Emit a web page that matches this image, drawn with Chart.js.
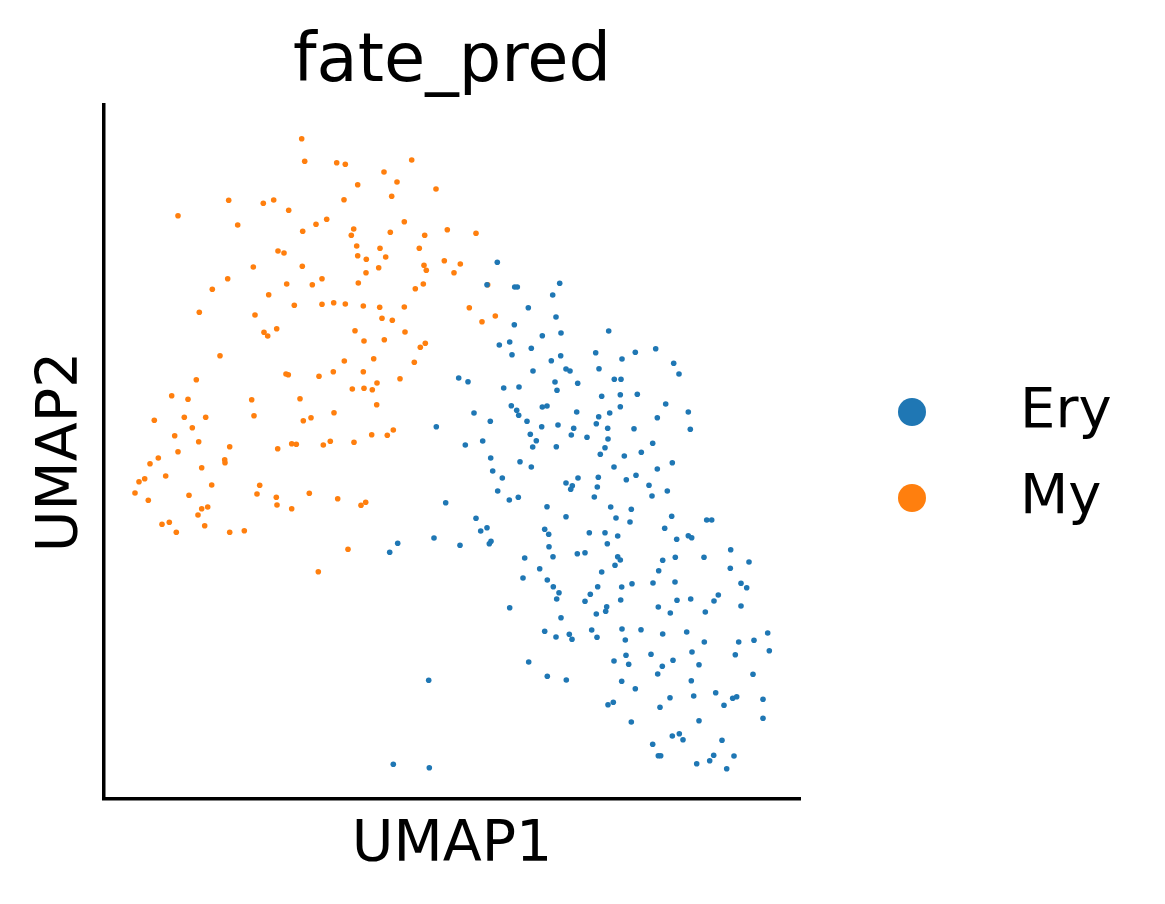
<!DOCTYPE html>
<html>
<head>
<meta charset="utf-8">
<script src="https://cdn.jsdelivr.net/npm/chart.js@4.4.1/dist/chart.umd.min.js"></script>
<style>
  html, body { margin: 0; padding: 0; background: #fff; }
  #wrap { width: 1165px; height: 904px; }
</style>
</head>
<body>
<div id="wrap"><canvas id="c" width="1165" height="904"></canvas></div>
<script>
// Categories
const categories = ["Ery", "My"];
const colors = ["#1f77b4", "#ff7f0e"];

// Values (UMAP1, UMAP2 in picture units; UMAP2 grows downward)
const eryX = [487,497.3,514.7,517.3,559.7,552.7,528.3,556,514.3,542.3,561,499.3,509.7,531.3,
512,560.7,551.3,533,566,570,458.7,468,555,577.7,503.7,519,557,511.3,516.7,518.7,542.3,547,576.7,474,490.3,527,541.7,558,573.7,571.3,436.3,530.3,536.3,532.7,556.3,482.7,465.3,490.7,520,531.3,492.7,502.3,578,566,572.3,570.7,497.7,509.3,518.3,547,445.7,566,476,487,480.7,544.7,548.7,491,489.3,397.7,389.7,434,460,549,553,577.3,524.7,539.7,523,547.3,
553.3,559,556.7,509.7,561,544.7,556,569.3,572,528.7,547.3,566.3,428.7,393.3,429.3,
608.7,595.7,635.3,655.7,622,599,673.7,679,614.3,621,601.7,620.3,637.3,620.3,665.7,688.3,609.7,598.7,596.3,657.3,607.7,634,690.3,587,608,605,652.7,600.3,624.3,641.3,614,672.3,657.3,598.3,626.3,636,597.3,649,594.3,652,667.3,610.7,631.3,616,630,671.7,706.7,711.7,589.3,605,617.7,664.7,676.7,688.3,691.7,
585,607.3,617.7,620.3,615,662.7,675.3,704,730.7,749,730.3,601.7,658.7,597.7,621.7,632,653,675,741,746.7,590.3,585,620.7,677,690.7,714,718.3,596.3,606.7,605.7,658.3,670.3,705.3,741,591.7,597,622,641,625.3,662.7,686.7,704.3,738.7,754,767.7,769.3,735.3,626,628.7,614,651,673,692,699,662.3,657.7,753,621.7,635.3,691.3,608,613.3,670,693.7,715.7,724,732.7,736.7,763,763,660,631.3,699,672.3,679.3,683,722,652.7,658.3,660.7,713.7,734,709.7,696.7,726.7];
const eryY = [284.7,262.3,287,287,283.3,295,307.7,317,324.7,335.7,333,345,342,348.3,
354.7,355.7,360.7,371,369,371,378,381.7,382,383.3,388,387,390.3,405.7,410.3,415.3,407,406,412,413,421.3,421.3,426.7,425,428.3,435,426.7,434.3,440.7,447,446.7,441,445,458,461.7,467,471,478,478,483,485.7,489.3,491,500,497.3,506.7,502.7,516.7,518.3,527.7,531,529.3,534.3,541.3,543.7,543.3,552.3,538,545.3,546.7,556.7,553.7,558,568.7,578,580,
586.7,592.7,599,607.7,617.7,631.3,637,634.3,639.3,662,676.3,680,680.3,764.3,767.7,
331,352.7,352.3,348.7,359,368.7,363.3,374,379.3,379.3,396.3,394.7,394.3,406.7,404,412,413,416.7,423.7,417.7,428.3,428.7,429.3,437.3,439,447.7,443.3,454.3,456,452.3,467,462.7,469,477.3,479.7,475.3,487,485.3,497,496,491,507,509.3,518,522,516.3,520,520,532.7,532.7,536,528.3,539.3,535.7,537.7,
552.7,543.7,556.7,560,565.3,560.3,557.3,557.3,549.7,562,568.3,572,570.7,586.7,587,583.7,583,582,583.3,587.7,594.3,601.3,600,600.3,599,601,595,614,606.7,611.3,607,613,612,606,630,637.3,629,629.7,640,634,632,642,642,640.3,633,650.7,654.7,655.3,664.3,661,654.3,660.3,652,664.7,666.3,674,674.3,681.3,688.7,680.7,704.7,702.3,697.7,696,692.7,705.3,698.3,696.7,699.3,718.3,707.3,722,720.7,736,733.7,739.7,740.3,744.3,755.7,755.7,755.3,756,760.7,763.7,768.7];

const myX = [301.7,304.7,336.7,228.7,263.3,273.7,288.7,178,237.7,316,326.7,302.7,278,284,253.3,302.3,227.7,322,212.3,286.7,312.3,268.7,199.3,294.3,322,333.7,255,264,267.7,276.7,
345.3,411.7,384,397,357.7,344,391.7,436,404.3,353.7,351.3,390.3,447.3,424.7,476,356.7,380,419.3,357.7,366.3,385.7,444.3,460.3,424,426.3,378.7,366,454,358.3,423.3,415.3,487.7,345.3,363.3,379.7,404.3,469.3,382,392.3,495.3,482,355,405,364,384.3,425.3,420.3,
220,196.3,286,288.3,319,333.3,171.7,188,251.7,300,154.3,184.3,205.7,254,303.3,311,334,192.3,174.7,198.7,229.7,277.7,291.7,296.3,323.3,330.3,178,158.3,150,224.7,225,201.7,144.7,139,165.7,211.7,259.7,135,148.3,189,257,276.3,309.3,337.7,277,291.7,201.7,207.7,198,162,169.3,204.7,176.3,229.7,244.3,318.3,
344.3,373.7,414.3,363.3,377,400,352.3,364,372.3,376.7,371.7,387.3,393.3,354,361,365.7,348];
const myY = [138.7,161.3,162.7,200.3,203.3,200,210.3,215.7,225,224.3,219.3,231.3,251,253,267,266.3,278.7,278.7,289.3,284,284.7,294.7,312.3,305.3,304.3,302.7,315,332.3,336,328.7,
164.3,160,172,182,184.7,199.7,196.3,189,221.7,229,235.3,232.3,229.7,235.3,233.3,246,248.3,248.3,255.7,259.3,257,260.7,264,265.3,270.3,267.7,272.7,272.7,283,284,288.7,284.7,304,306,307.3,307,307.7,318.3,320.3,316,321.7,330.7,332,341,339.7,343.3,347.3,
355.7,379.7,374,374.7,376.3,371.7,395.7,399.3,399.7,398.7,420.3,417.3,417.3,415.7,420.7,417.7,412.7,427.7,435.7,441.7,446.7,448.7,443.7,444.3,445,441.3,451.7,458,463.7,459.7,462.7,467.7,478.7,481.7,476,485,485.3,493,500.3,495.3,494,497.3,493.3,498.7,505,508.7,508.7,507,515,524.3,522.3,525.7,532.3,532.3,530.7,571.7,
361,358.7,362.3,371.7,383,378.7,389,388.3,389.7,404.7,434.7,435.3,430,442.3,505.3,502.3,549.3];

// Axis extents (picture units)
const xRange = [104, 800];
const yRange = [105, 799];

const toPoints = (xs, ys) => xs.map((x, i) => ({ x: x, y: ys[i] }));

const FONT = "'DejaVu Sans', sans-serif";

const legendPlugin = {
  id: 'sideLegend',
  afterDraw(chart) {
    const ctx = chart.ctx;
    const area = chart.chartArea;
    ctx.save();
    const cx = area.right + 112;
    const rows = [area.top + 307, area.top + 393];
    categories.forEach((name, i) => {
      ctx.beginPath();
      ctx.arc(cx, rows[i], 14, 0, Math.PI * 2);
      ctx.fillStyle = colors[i];
      ctx.fill();
      ctx.fillStyle = '#000';
      ctx.font = '56px ' + FONT;
      ctx.textBaseline = 'alphabetic';
      ctx.textAlign = 'left';
      ctx.fillText(name, cx + 108, rows[i] + 15);
    });
    ctx.restore();
  }
};

new Chart(document.getElementById('c'), {
  type: 'scatter',
  data: {
    datasets: [
      { label: categories[0], data: toPoints(eryX, eryY), backgroundColor: colors[0], pointRadius: 2.8, borderWidth: 0, pointHoverRadius: 2.8 },
      { label: categories[1], data: toPoints(myX, myY), backgroundColor: colors[1], pointRadius: 2.8, borderWidth: 0, pointHoverRadius: 2.8 }
    ]
  },
  options: {
    responsive: false,
    animation: false,
    events: [],
    layout: { padding: { left: 0, right: 365, top: 0, bottom: 0 } },
    plugins: {
      legend: { display: false },
      tooltip: { enabled: false },
      title: {
        display: true,
        text: 'fate_pred',
        fullSize: false,
        color: '#000',
        font: { family: FONT, size: 67, weight: 'normal', lineHeight: 1.2 },
        padding: { top: 23, bottom: 1.6 }
      }
    },
    scales: {
      x: {
        type: 'linear',
        min: xRange[0], max: xRange[1],
        grid: { display: false, drawTicks: false },
        ticks: { display: false },
        border: { display: true, color: '#000', width: 3.5 },
        title: {
          display: true, text: 'UMAP1', color: '#000',
          font: { family: FONT, size: 57, weight: 'normal', lineHeight: 1.2 },
          padding: { top: 13.4, bottom: 23.2 }
        }
      },
      y: {
        type: 'linear',
        reverse: true,
        min: yRange[0], max: yRange[1],
        grid: { display: false, drawTicks: false },
        ticks: { display: false },
        border: { display: true, color: '#000', width: 3.5 },
        title: {
          display: true, text: 'UMAP2', color: '#000',
          font: { family: FONT, size: 57, weight: 'normal', lineHeight: 1.2 },
          padding: { top: 27.8, bottom: 7.8 }
        }
      }
    }
  },
  plugins: [legendPlugin]
});
</script>
</body>
</html>
